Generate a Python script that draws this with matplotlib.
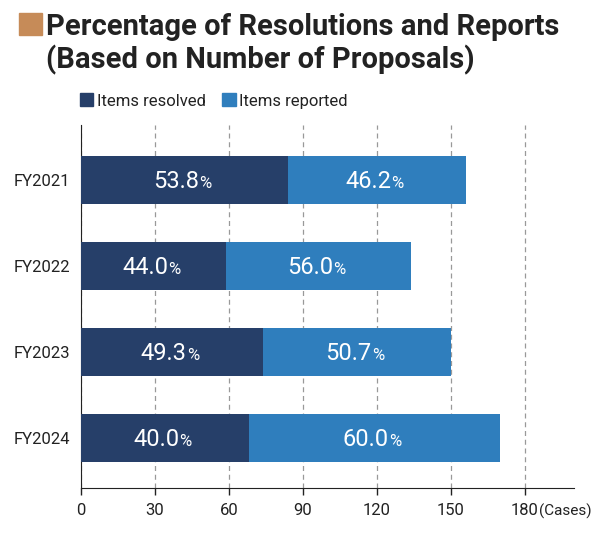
import matplotlib.pyplot as plt
from matplotlib.patches import Rectangle, Patch
import numpy as np

plt.rcParams["font.family"] = ["Roboto", "DejaVu Sans"]

years = ["FY2021", "FY2022", "FY2023", "FY2024"]
resolved = [84, 59, 74, 68]
reported = [72, 75, 76, 102]
pct_resolved = ["53.8", "44.0", "49.3", "40.0"]
pct_reported = ["46.2", "56.0", "50.7", "60.0"]
xticks = [0, 30, 60, 90, 120, 150, 180]

c_dark = "#263f69"
c_blue = "#2f7ebd"
c_title = "#c68b58"
c_text = "#222222"

fig = plt.figure(figsize=(6.08, 5.37), dpi=100)
W, H = 608, 537
ax = fig.add_axes([81 / W, 1 - 488 / H, (574 - 81) / W, (488 - 125) / H])

y = np.arange(len(years))
ax.barh(y, resolved, height=0.55, color=c_dark, zorder=3)
ax.barh(y, reported, left=resolved, height=0.55, color=c_blue, zorder=3)

# percentage labels, number big and % small
for i in range(len(years)):
    for left, w, txt in [(0, resolved[i], pct_resolved[i]), (resolved[i], reported[i], pct_reported[i])]:
        xc = left + w / 2
        ax.annotate(txt, (xc, i), xytext=(10.5, -5.8), textcoords="offset points",
                    ha="right", va="baseline", color="white", fontsize=17, zorder=4)
        ax.annotate("%", (xc, i), xytext=(10.5, -5.8), textcoords="offset points",
                    ha="left", va="baseline", color="white", fontsize=12, zorder=4)

ax.set_xlim(0, 200)
ax.set_ylim(3.58, -0.64)
ax.set_xticks(xticks)
ax.set_xticklabels([str(t) for t in xticks], fontsize=12, color=c_text)
ax.set_yticks(y)
ax.set_yticklabels(years, fontsize=12, color=c_text)
ax.tick_params(axis="y", length=0, pad=8)
ax.tick_params(axis="x", length=5, width=1, direction="out", pad=6, color=c_text)
ax.xaxis.grid(True, linestyle=(0, (4, 3)), color="#999999", linewidth=0.9, zorder=0)
for s in ["top", "right"]:
    ax.spines[s].set_visible(False)
ax.spines["left"].set_color(c_text)
ax.spines["bottom"].set_color(c_text)
fig.text(539 / W, 1 - 516 / H, "(Cases)", fontsize=11, color=c_text, va="baseline", ha="left")

# title
fig.patches.append(Rectangle((19 / W, 1 - 35 / H), 23 / W, 22 / H, transform=fig.transFigure,
                             color=c_title, figure=fig))
fig.text(46 / W, 1 - 35 / H, "Percentage of Resolutions and Reports", fontsize=21,
         fontweight="bold", color=c_text, va="baseline", ha="left")
fig.text(46 / W, 1 - 68 / H, "(Based on Number of Proposals)", fontsize=21,
         fontweight="bold", color=c_text, va="baseline", ha="left")

handles = [Patch(color=c_dark, label="Items resolved"), Patch(color=c_blue, label="Items reported")]
fig.legend(handles=handles, loc="center left", bbox_to_anchor=(65 / W, 1 - 101 / H), ncol=2,
           frameon=False, fontsize=12, handlelength=0.8, handleheight=0.8, handletextpad=0.2,
           columnspacing=1.0, labelcolor=c_text)

fig.savefig("out.png", dpi=100)
